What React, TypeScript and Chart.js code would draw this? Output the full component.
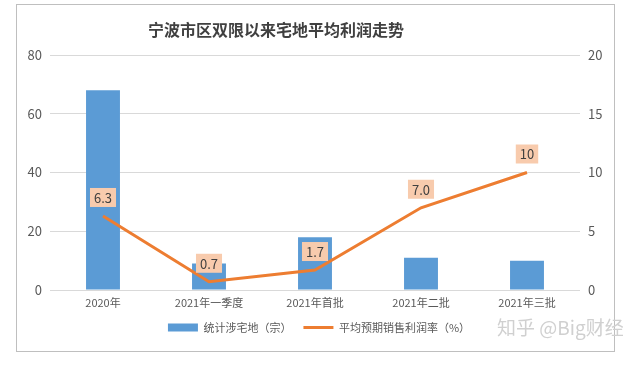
import React, { useEffect, useRef } from "react";
import { Chart, registerables } from "chart.js";

Chart.register(...registerables);

const categories = ["2020年", "2021年一季度", "2021年首批", "2021年二批", "2021年三批"];
const landCounts = [68, 9, 18, 11, 10];
const profitRates = [6.3, 0.7, 1.7, 7.0, 10];
const profitLabels = ["6.3", "0.7", "1.7", "7.0", "10"];
const seriesNames = ["统计涉宅地（宗）", "平均预期销售利润率（%）"];
const chartTitle = "宁波市区双限以来宅地平均利润走势";
const sourceText = "知乎 @Big财经";

const FONT = '"Noto Sans CJK SC", "Noto Sans", sans-serif';
const BLUE = "#5B9BD5";
const ORANGE = "#ED7D31";
const LABEL_BG = "#F8CBAD";
const TEXT = "#595959";
const GRID = "#D9D9D9";

export default function App() {
  const ref = useRef<HTMLCanvasElement>(null);

  useEffect(() => {
    const canvas = ref.current!;
    const defaultGen = Chart.defaults.plugins.legend.labels.generateLabels;

    const decor = {
      id: "decor",
      beforeDraw(chart: any) {
        const ctx = chart.ctx;
        ctx.save();
        ctx.fillStyle = "#ffffff";
        ctx.fillRect(0, 0, chart.width, chart.height);
        ctx.strokeStyle = "#BFBFBF";
        ctx.lineWidth = 1;
        ctx.strokeRect(16.5, 4.5, 598, 347);
        ctx.restore();
      },
      afterDatasetsDraw(chart: any) {
        const ctx = chart.ctx;
        const meta = chart.getDatasetMeta(1);
        ctx.save();
        ctx.font = `13px ${FONT}`;
        ctx.textAlign = "center";
        ctx.textBaseline = "middle";
        meta.data.forEach((pt: any, i: number) => {
          const txt = profitLabels[i];
          const w = ctx.measureText(txt).width + 8;
          const h = 19;
          const cx = pt.x;
          const cy = pt.y - 9 - h / 2;
          ctx.fillStyle = LABEL_BG;
          ctx.fillRect(cx - w / 2, cy - h / 2, w, h);
          ctx.fillStyle = "#404040";
          ctx.fillText(txt, cx, cy + 0.5);
        });
        ctx.restore();
      },
      afterDraw(chart: any) {
        const ctx = chart.ctx;
        ctx.save();
        ctx.font = `bold 16px ${FONT}`;
        ctx.fillStyle = "#404040";
        ctx.textAlign = "center";
        ctx.textBaseline = "middle";
        ctx.fillText(chartTitle, 276, 30);
        ctx.font = `19px ${FONT}`;
        ctx.fillStyle = "#D0D0D0";
        ctx.textAlign = "left";
        ctx.fillText(sourceText, 497, 328);
        ctx.restore();
      },
    };

    const chart = new Chart(canvas, {
      type: "bar",
      data: {
        labels: categories,
        datasets: [
          {
            type: "bar",
            label: seriesNames[0],
            data: landCounts,
            backgroundColor: BLUE,
            borderWidth: 0,
            yAxisID: "y",
            order: 1,
            categoryPercentage: 1,
            barPercentage: 0.32,
          },
          {
            type: "line",
            label: seriesNames[1],
            data: profitRates,
            borderColor: ORANGE,
            backgroundColor: ORANGE,
            borderWidth: 3,
            pointRadius: 0,
            tension: 0,
            yAxisID: "y1",
            order: 0,
          },
        ],
      } as any,
      options: {
        responsive: false,
        devicePixelRatio: 1,
        animation: false,
        layout: { padding: { top: 55, left: 0, right: 0, bottom: 22 } },
        plugins: {
          tooltip: { enabled: false },
          title: { display: false },
          legend: {
            position: "bottom",
            labels: {
              usePointStyle: true,
              pointStyleWidth: 30,
              boxWidth: 30,
              boxHeight: 8,
              padding: 12,
              color: TEXT,
              font: { size: 11, family: FONT },
              sort: (a: any, b: any) => a.datasetIndex - b.datasetIndex,
              generateLabels: (c: any) =>
                defaultGen(c).map((l: any) =>
                  l.datasetIndex === 0
                    ? { ...l, pointStyle: "rect", lineWidth: 0, fillStyle: BLUE, strokeStyle: BLUE }
                    : { ...l, pointStyle: "line", lineWidth: 3, fillStyle: ORANGE, strokeStyle: ORANGE }
                ),
            },
          },
        },
        scales: {
          x: {
            grid: { display: false },
            border: { display: false },
            ticks: {
              color: TEXT,
              font: { size: 11, family: FONT },
              padding: -2,
              maxRotation: 0,
              autoSkip: false,
            },
            afterFit: (s: any) => {
              s.height = 20;
            },
          },
          y: {
            position: "left",
            min: 0,
            max: 80,
            ticks: { stepSize: 20, padding: 8, color: TEXT, font: { size: 13, family: FONT } },
            grid: { color: GRID, drawTicks: false },
            border: { display: false },
            afterFit: (s: any) => {
              s.width = 50;
            },
          },
          y1: {
            position: "right",
            min: 0,
            max: 20,
            ticks: { stepSize: 5, padding: 8, color: TEXT, font: { size: 13, family: FONT } },
            grid: { display: false, drawTicks: false },
            border: { display: false },
            afterFit: (s: any) => {
              s.width = 58;
            },
          },
        },
      } as any,
      plugins: [decor],
    });

    return () => chart.destroy();
  }, []);

  return (
    <div style={{ position: "fixed", left: 0, top: 0, width: 638, height: 365, background: "#fff" }}>
      <canvas ref={ref} width={638} height={365} style={{ display: "block", width: 638, height: 365 }} />
    </div>
  );
}
